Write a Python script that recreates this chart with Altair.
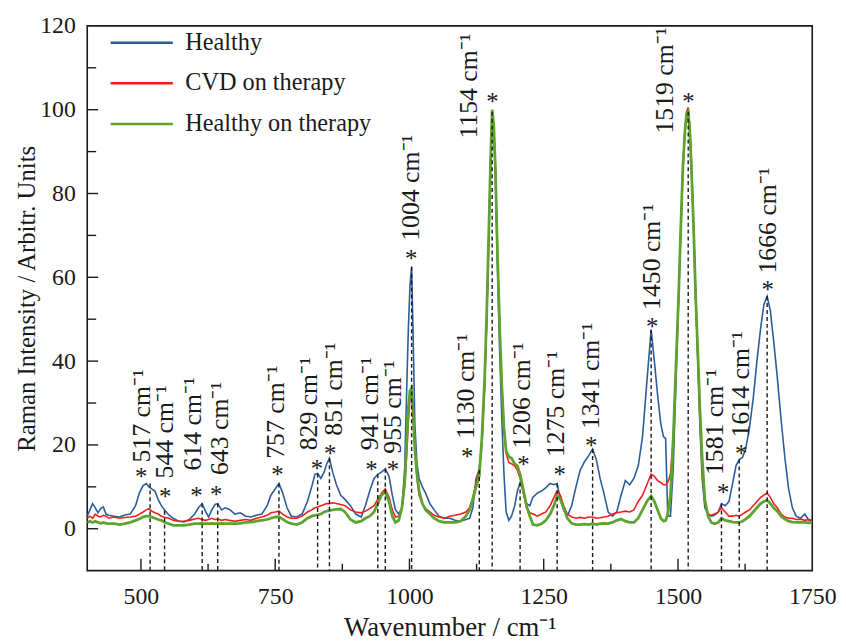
import altair as alt
import pandas as pd

# ---------------- spectra ----------------
wn = [400, 405, 410, 415, 420, 425, 430, 435, 440, 450, 460, 470, 480, 490, 497, 504, 510, 515, 520, 526,
      532, 538, 545, 552, 560, 570, 580, 590, 600, 607, 614, 620, 626, 632, 638, 643, 650, 657, 665, 675,
      685, 695, 705, 715, 725, 735, 742, 750, 757, 764, 772, 780, 790, 800, 810, 818, 824, 829, 835, 841,
      846, 851, 857, 864, 872, 880, 890, 900, 910, 918, 926, 934, 941, 948, 955, 962, 968, 974, 980, 986,
      991, 995, 998, 1001, 1004, 1007, 1010, 1014, 1018, 1024, 1030, 1038, 1046, 1055, 1065, 1075, 1085, 1095, 1105, 1112,
      1118, 1124, 1130, 1135, 1140, 1144, 1148, 1151, 1154, 1157, 1160, 1164, 1168, 1172, 1176, 1180, 1185, 1190, 1196, 1201,
      1206, 1212, 1218, 1224, 1230, 1238, 1246, 1254, 1262, 1269, 1275, 1281, 1287, 1294, 1302, 1310, 1318, 1326, 1334, 1341,
      1348, 1355, 1362, 1370, 1378, 1386, 1394, 1402, 1410, 1418, 1426, 1434, 1442, 1450, 1456, 1462, 1468, 1473, 1477, 1481,
      1486, 1491, 1496, 1501, 1505, 1509, 1513, 1516, 1519, 1522, 1525, 1529, 1533, 1537, 1541, 1545, 1550, 1556, 1562, 1568,
      1575, 1581, 1588, 1595, 1602, 1608, 1614, 1620, 1626, 1633, 1640, 1647, 1654, 1660, 1666, 1672, 1678, 1685, 1692, 1699,
      1706, 1713, 1720, 1728, 1736, 1744, 1750]

healthy = [3.0, 4.5, 6.0, 5.0, 3.8, 4.8, 5.2, 3.5, 3.2, 3.0, 2.8, 3.3, 3.5, 5.5, 8.5, 10.3, 10.8, 10.0, 9.5, 9.0,
           7.0, 5.5, 4.3, 3.3, 2.5, 1.8, 1.6, 2.2, 3.5, 5.0, 6.0, 4.2, 2.8, 4.5, 5.8, 6.0, 4.5, 5.0, 4.6, 3.5,
           3.8, 3.0, 2.8, 3.2, 3.5, 5.5, 8.0, 9.5, 10.8, 8.5, 5.0, 3.0, 2.8, 3.5, 6.5, 10.0, 13.0, 13.2, 12.0, 13.5,
           15.5, 16.8, 13.5, 10.5, 8.0, 7.0, 5.5, 3.5, 2.8, 5.5, 9.0, 12.0, 13.0, 13.5, 14.3, 12.5, 8.0, 4.5, 3.5, 5.0,
           14.0, 34.0, 48.0, 58.0, 62.5, 45.0, 25.0, 15.5, 12.0, 10.0, 8.5, 6.0, 4.5, 3.0, 2.5, 2.5, 2.0, 1.8, 2.2, 2.5,
           5.0, 12.0, 14.0, 20.0, 34.0, 50.0, 72.0, 88.0, 99.5, 94.0, 84.0, 62.0, 42.0, 26.0, 13.0, 4.0, 2.0, 3.0, 5.5, 9.0,
           11.0, 9.0, 6.0, 5.5, 7.5, 8.5, 9.0, 9.8, 10.8, 10.5, 10.8, 7.0, 4.5, 3.0, 5.5, 10.0, 14.0, 16.0, 17.5, 19.0,
           16.5, 12.0, 8.5, 4.0, 3.0, 4.0, 8.0, 11.5, 10.5, 12.0, 15.0, 22.0, 35.0, 47.5, 40.0, 32.0, 25.0, 22.0, 21.5, 3.0,
           3.0, 14.0, 34.0, 54.0, 70.0, 85.0, 95.0, 98.5, 99.5, 96.0, 88.0, 73.0, 56.0, 40.0, 24.0, 12.0, 5.0, 3.5, 3.0, 3.2,
           4.0, 6.0, 5.5, 6.5, 11.0, 15.0, 16.5, 17.0, 19.0, 24.0, 31.0, 40.0, 48.0, 53.5, 55.5, 52.0, 45.0, 36.0, 26.0, 17.0,
           9.5, 5.0, 3.0, 2.5, 3.5, 2.0, 2.0]

cvd_therapy = [2.5, 3.0, 2.5, 3.5, 3.0, 2.8, 3.2, 3.0, 2.5, 2.8, 2.5, 2.7, 2.8, 3.0, 3.5, 4.0, 4.5, 4.8, 4.2, 3.8,
               3.5, 3.0, 2.7, 2.5, 2.0, 1.8, 1.8, 2.0, 2.3, 2.5, 2.2, 2.0, 2.2, 2.5, 2.2, 2.3, 2.0, 2.2, 2.0, 1.8,
               2.0, 2.2, 2.0, 2.5, 2.8, 3.2, 3.8, 4.0, 4.2, 3.5, 2.8, 2.5, 2.5, 3.0, 4.0, 4.5, 5.0, 5.2, 5.5, 5.8,
               6.0, 6.0, 6.2, 6.0, 5.8, 5.5, 4.5, 4.0, 3.8, 4.2, 4.8, 5.5, 7.0, 8.5, 9.5, 7.5, 4.5, 2.8, 3.0, 5.0,
               10.0, 18.0, 26.0, 31.0, 33.0, 29.0, 20.0, 12.0, 8.0, 6.0, 4.8, 4.0, 3.2, 2.8, 2.5, 3.0, 3.2, 3.5, 4.0, 5.0,
               7.5, 11.0, 14.5, 21.0, 35.0, 51.0, 71.0, 87.0, 99.5, 96.0, 86.0, 65.0, 48.0, 34.0, 24.0, 18.0, 15.8, 15.5, 15.0, 14.0,
               12.0, 8.5, 5.0, 3.8, 3.5, 3.0, 3.5, 4.0, 5.5, 7.5, 9.0, 8.0, 5.5, 3.5, 2.8, 2.5, 2.7, 2.5, 2.8, 2.8,
               2.5, 2.6, 2.8, 3.0, 3.5, 3.8, 4.0, 4.2, 4.0, 4.5, 6.5, 8.0, 10.5, 13.0, 12.5, 11.5, 11.0, 10.5, 10.5, 11.0,
               13.0, 21.0, 38.0, 55.0, 71.0, 86.0, 95.0, 99.5, 100.5, 96.0, 86.0, 72.0, 54.0, 40.0, 26.0, 15.0, 6.0, 3.5, 3.2, 3.5,
               4.0, 5.0, 4.0, 3.0, 3.0, 3.2, 3.0, 3.5, 4.0, 4.5, 5.5, 6.5, 7.5, 8.0, 8.5, 7.5, 6.0, 5.0, 3.5, 2.8,
               2.5, 2.5, 2.2, 2.3, 2.0, 2.2, 2.0]

healthy_therapy = [1.5, 1.8, 1.5, 1.8, 1.5, 1.3, 1.5, 1.3, 1.2, 1.2, 1.0, 1.2, 1.5, 2.0, 2.3, 2.8, 3.0, 3.0, 2.8, 2.5,
                   2.2, 2.0, 1.5, 1.2, 0.8, 0.8, 0.8, 1.0, 1.2, 1.2, 1.3, 1.2, 1.2, 1.3, 1.2, 1.2, 1.3, 1.2, 1.2, 1.2,
                   1.3, 1.5, 1.6, 1.8, 2.0, 2.2, 2.5, 2.8, 2.8, 2.3, 1.6, 1.2, 1.0, 1.5, 2.5, 3.0, 3.2, 3.3, 3.5, 4.0,
                   4.2, 4.3, 4.5, 4.6, 4.7, 4.0, 2.2, 1.5, 1.8, 2.5, 3.0, 4.0, 6.0, 8.0, 8.8, 6.5, 3.0, 1.5, 2.0, 5.0,
                   11.0, 21.0, 29.0, 33.0, 33.5, 27.0, 19.0, 13.0, 9.0, 6.0, 4.5, 3.5, 2.5, 1.8, 1.5, 1.5, 1.5, 1.8, 3.0, 4.5,
                   7.0, 10.0, 12.5, 22.0, 36.0, 52.0, 72.0, 88.0, 100.0, 96.0, 86.0, 65.0, 48.0, 34.0, 24.0, 18.5, 17.2, 16.8, 15.5, 15.0,
                   13.0, 9.3, 5.5, 3.0, 1.0, 0.8, 1.2, 2.0, 3.5, 5.5, 7.8, 7.0, 5.0, 2.5, 1.3, 1.0, 1.0, 1.1, 1.0, 1.2,
                   1.0, 1.2, 1.3, 1.2, 1.5, 2.0, 2.3, 1.8, 1.5, 1.5, 2.5, 4.5, 6.5, 7.8, 6.5, 4.5, 2.5, 1.8, 2.0, 3.5,
                   8.0, 21.0, 38.0, 55.0, 71.0, 86.0, 95.0, 99.0, 99.5, 95.0, 86.0, 72.0, 55.0, 42.0, 28.0, 17.0, 7.0, 3.0, 1.5, 1.2,
                   1.5, 2.5, 2.0, 1.8, 1.6, 1.5, 1.5, 1.8, 2.3, 3.0, 4.0, 5.0, 6.0, 6.5, 6.8, 6.0, 5.0, 4.2, 3.0, 2.3,
                   1.8, 1.6, 1.5, 1.6, 1.5, 1.4, 1.5]

series_names = ["Healthy", "CVD on therapy", "Healthy on therapy"]
series_colors = ["#2b5c9c", "#ff1a1a", "#5ea32f"]
series_widths = [1.6, 1.6, 2.8]

# ---------------- annotations ----------------
peak_wn = [517, 544, 614, 643, 757, 829, 851, 941, 955, 1004, 1130, 1154, 1206, 1275, 1341, 1450, 1519, 1581, 1614, 1666]
peak_top = [10.8, 4.3, 6.0, 6.0, 10.8, 13.2, 16.8, 13.0, 14.3, 62.5, 14.0, 99.5, 11.0, 10.8, 19.0, 47.5, 99.5, 6.0, 16.5, 55.5]
star_wn = [500.5, 545.1, 603.4, 640.3, 754.1, 827.9, 852.4, 929.3, 969.3, 1003.1, 1107.6, 1154.3, 1212.0, 1279.7, 1338.2, 1451.8, 1519.5, 1584.0, 1617.8, 1667.0]
star_val = [13.6, 8.7, 8.9, 9.2, 13.9, 15.5, 19.1, 15.1, 15.1, 65.6, 18.3, 103.0, 16.3, 13.9, 21.0, 49.4, 103.0, 9.6, 19.1, 58.1]
label_wn = [502.0, 545.1, 597.3, 646.6, 751.0, 812.6, 858.7, 926.2, 969.3, 1003.1, 1104.5, 1110.6, 1209.0, 1273.6, 1338.2, 1451.2, 1476.5, 1568.7, 1617.8, 1667.0]
label_val = [15.8, 12.0, 13.9, 12.8, 16.7, 18.7, 22.2, 18.7, 17.9, 68.7, 21.4, 93.1, 19.1, 17.1, 23.8, 52.2, 94.3, 12.8, 21.8, 60.9]
label_text = [f"{p} cm\u207b\u00b9" for p in peak_wn]

x_major = [500, 750, 1000, 1250, 1500]
x_minor = [625, 875, 1125, 1375, 1625]
y_major = [0, 20, 40, 60, 80, 100]
y_minor = [10, 30, 50, 70, 90, 110]

FONT = "Times New Roman, Liberation Serif, Times, serif"
INK = "#1a1a1a"

# ---------------- tables ----------------
rows = []
for name, vals in zip(series_names, [healthy, cvd_therapy, healthy_therapy]):
    for w, v in zip(wn, vals):
        rows.append({"wn": w, "val": v, "series": name})
spec = pd.DataFrame(rows)

peaks = pd.DataFrame({"wn": peak_wn, "val": peak_top})
stars = pd.DataFrame({"wn": star_wn, "val": star_val})
labels = pd.DataFrame({"wn": label_wn, "val": label_val, "txt": label_text})

x_scale = alt.Scale(domain=[400, 1750], nice=False, zero=False)
y_scale = alt.Scale(domain=[-10, 120], nice=False, zero=False)

x_axis = alt.Axis(values=[500, 750, 1000, 1250, 1500, 1750], format="d", title="Wavenumber / cm\u207b\u00b9",
                  grid=False, ticks=False, domain=False, labelFont=FONT, labelFontSize=24,
                  labelColor=INK, labelPadding=14, titleFont=FONT, titleFontSize=27,
                  titleFontWeight="normal", titleColor=INK, titlePadding=6, labelFlush=False)
y_axis = alt.Axis(values=[0, 20, 40, 60, 80, 100, 120], format="d", title="Raman Intensity / Arbitr. Units",
                  grid=False, ticks=False, domain=False, labelFont=FONT, labelFontSize=24,
                  labelColor=INK, labelPadding=12, titleFont=FONT, titleFontSize=25,
                  titleFontWeight="normal", titleColor=INK, titlePadding=0, labelFlush=False)

X = alt.X("wn:Q", scale=x_scale, axis=x_axis)
Y = alt.Y("val:Q", scale=y_scale, axis=y_axis)

color = alt.Color("series:N", scale=alt.Scale(domain=series_names, range=series_colors),
                  legend=alt.Legend(orient="none", legendX=35, legendY=-3, title=None,
                                    symbolType="M-1.68,0H1.68", symbolSize=1400, symbolStrokeWidth=2.5,
                                    labelFont=FONT, labelFontSize=24.5, labelColor=INK, labelLimit=0,
                                    labelOffset=24, rowPadding=9, padding=0))

layers = []
for name, sw in zip(series_names, series_widths):
    layers.append(
        alt.Chart(spec).transform_filter(alt.datum.series == name)
        .mark_line(strokeWidth=sw, clip=True)
        .encode(x=X, y=Y, color=color)
    )

dashes = alt.Chart(peaks).mark_rule(strokeDash=[4, 3], strokeWidth=1.4, color=INK).encode(
    x=X, y=Y, y2=alt.value(550))

star_marks = alt.Chart(stars).mark_text(text="*", font=FONT, fontSize=25, align="center",
                                        baseline="middle", dy=5, color=INK).encode(x=X, y=Y)

label_marks = alt.Chart(labels).mark_text(font=FONT, fontSize=26, angle=270, align="left",
                                          baseline="middle", color=INK).encode(x=X, y=Y, text="txt:N")

xt_major = alt.Chart(pd.DataFrame({"wn": x_major})).mark_rule(color=INK, strokeWidth=1.4).encode(
    x=X, y=alt.value(550), y2=alt.value(538))
xt_minor = alt.Chart(pd.DataFrame({"wn": x_minor})).mark_rule(color=INK, strokeWidth=1.4).encode(
    x=X, y=alt.value(550), y2=alt.value(543))
yt_major = alt.Chart(pd.DataFrame({"val": y_major})).mark_rule(color=INK, strokeWidth=1.4).encode(
    y=Y, x=alt.value(0), x2=alt.value(11))
yt_minor = alt.Chart(pd.DataFrame({"val": y_minor})).mark_rule(color=INK, strokeWidth=1.4).encode(
    y=Y, x=alt.value(0), x2=alt.value(9))

chart = alt.layer(*layers, dashes, star_marks, label_marks, xt_major, xt_minor, yt_major, yt_minor).properties(
    width=732, height=550,
    autosize=alt.AutoSizeParams(type="none"),
    padding={"left": 80, "top": 15, "right": 26, "bottom": 70},
    background="white",
).configure_view(stroke=INK, strokeWidth=1.6)

chart.save("out.html", embed_options={"renderer": "svg", "actions": False})
